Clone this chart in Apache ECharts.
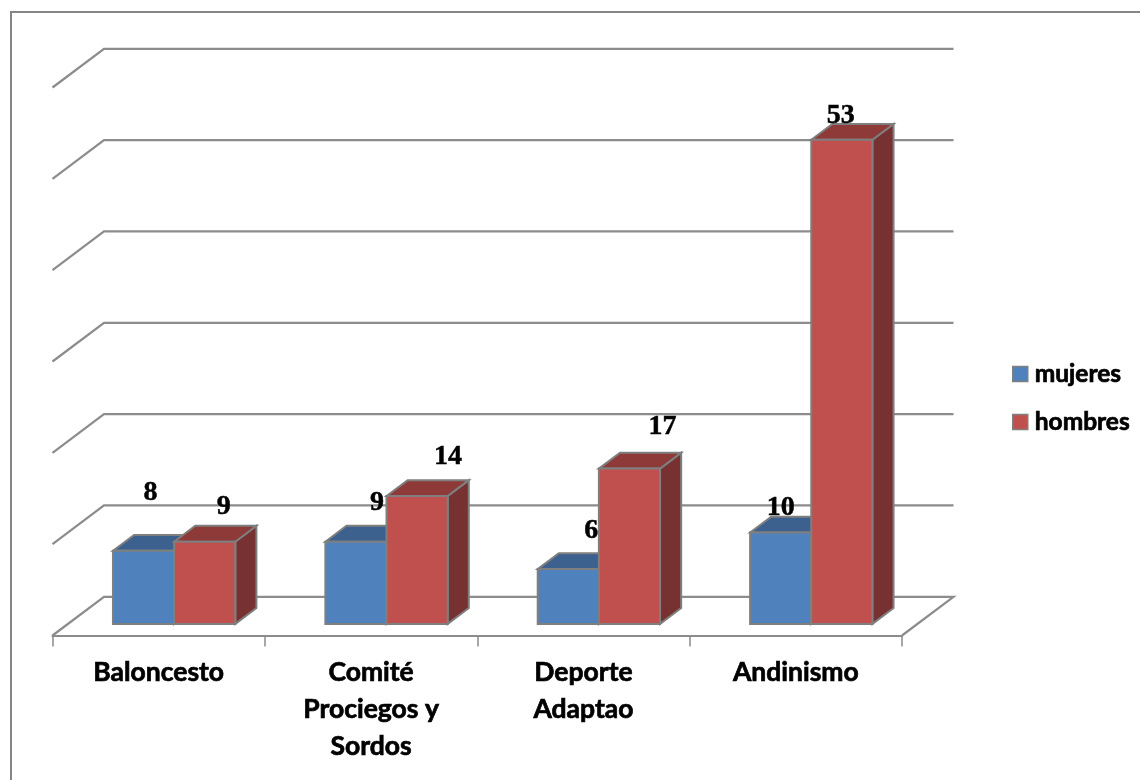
<!DOCTYPE html>
<html><head><meta charset="utf-8">
<style>html,body{margin:0;padding:0;background:#fff}#c{width:1140px;height:780px}</style>
<script src="https://cdn.jsdelivr.net/npm/echarts@6/dist/echarts.min.js"></script>
</head><body><div id="c"></div>
<script>
const categories = ['Baloncesto', 'Comité\nProciegos y\nSordos', 'Deporte\nAdaptao', 'Andinismo'];
const mujeres = [8, 9, 6, 10];
const hombres = [9, 14, 17, 53];
const wallTicks = [0, 10, 20, 30, 40, 50, 60];

const EDGE = '#7f7f7f';
const WALL = '#8c8c8c';
const DEPTH_X = 51.5, DEPTH_Y = 38.7;      // wall offset from the front of the floor
const FRONT = 0.30, BAR_DEPTH = 0.41;       // bar position inside that depth
const BAR_BAND = 0.288;                     // one bar's width as a share of a category
const LABEL_FONT = 'bold 28px "Liberation Serif", serif';
const SANS = { fontFamily: 'Lato', fontWeight: 'bold', color: '#000', textBorderColor: '#000', textBorderWidth: 0.7 };
const mujeresNudge = [[7, -58], [21, -39], [23, -38], [0, -25]];
const hombresNudge = [[19, -35], [31, -39], [33, -42], [-1, -24]];

function wallItem(params, api) {
  const cs = params.coordSys;
  const y = api.coord([0, api.value(0)])[1];
  const x0 = cs.x, x1 = cs.x + cs.width;
  const pts = [[x0, y], [x0 + DEPTH_X, y - DEPTH_Y], [x1 + DEPTH_X, y - DEPTH_Y]];
  if (api.value(0) === 0) pts.push([x1, y]);
  return { type: 'polyline', shape: { points: pts },
    style: { stroke: WALL, lineWidth: 2.2, fill: null } };
}

function barRenderer(slot, front, top, side, nudge) {
  return function (params, api) {
    const cat = api.value(0), val = api.value(1);
    const band = api.size([1, 0])[0];
    const w = band * BAR_BAND;
    const c = api.coord([cat, val]), base = api.coord([cat, 0]);
    const ox = DEPTH_X * FRONT, oy = DEPTH_Y * FRONT;
    const dx = DEPTH_X * BAR_DEPTH, dy = DEPTH_Y * BAR_DEPTH;
    const l = c[0] + ox + slot * w, r = l + w;
    const t = c[1] - oy, b = base[1] - oy;
    const st = (fill) => ({ fill, stroke: EDGE, lineWidth: 2, lineJoin: 'miter' });
    const n = nudge[params.dataIndex];
    return { type: 'group', children: [
      { type: 'polygon', shape: { points: [[r, t], [r + dx, t - dy], [r + dx, b - dy], [r, b]] }, style: st(side) },
      { type: 'polygon', shape: { points: [[l, t], [l + dx, t - dy], [r + dx, t - dy], [r, t]] }, style: st(top) },
      { type: 'rect', shape: { x: l, y: t, width: w, height: b - t }, style: st(front) },
      { type: 'text', z2: 50, style: { text: String(val), x: l + w / 2 + n[0], y: t + n[1],
          fill: '#000', stroke: '#000', lineWidth: 0.5, font: LABEL_FONT, align: 'center', verticalAlign: 'middle' } }
    ] };
  };
}

const chart = echarts.init(document.getElementById('c'), null, { renderer: 'canvas' });
chart.setOption({
  animation: false,
  backgroundColor: '#fff',
  graphic: [{ type: 'polyline', z: -1, shape: { points: [[11, 780], [11, 12], [1140, 12]] },
    style: { fill: null, stroke: '#868686', lineWidth: 2 } }],
  grid: { left: 52.5, top: 87.5, width: 849.5, height: 548 },
  legend: { orient: 'vertical', left: 1012, top: 359, padding: 0, itemWidth: 15, itemHeight: 15, itemGap: 18,
    icon: 'rect', data: ['mujeres', 'hombres'], selectedMode: false,
    textStyle: { ...SANS, fontSize: 24.5, lineHeight: 30, padding: [0, 0, 0, 2] },
    itemStyle: { borderColor: EDGE, borderWidth: 1.5 } },
  xAxis: { type: 'category', data: categories, boundaryGap: true,
    axisLine: { lineStyle: { color: WALL, width: 2.2 } },
    axisTick: { show: true, alignWithLabel: false, length: 11, lineStyle: { color: WALL, width: 1.5 } },
    axisLabel: { interval: 0, margin: 18, ...SANS, fontSize: 26.5,
      lineHeight: 37, align: 'center', verticalAlign: 'top' } },
  yAxis: { type: 'value', min: 0, max: 60, interval: 10,
    axisLine: { show: false }, axisTick: { show: false }, axisLabel: { show: false }, splitLine: { show: false } },
  series: [
    { type: 'custom', name: 'wall', z: 1, silent: true, renderItem: wallItem,
      data: wallTicks.map(v => [v]), encode: { y: 0 }, clip: false },
    { type: 'custom', name: 'mujeres', z: 2, itemStyle: { color: '#4f81bd' }, clip: false,
      renderItem: barRenderer(-1, '#4f81bd', '#3c618e', '#3a5f8c', mujeresNudge),
      data: mujeres.map((v, i) => [i, v]), encode: { x: 0, y: 1 } },
    { type: 'custom', name: 'hombres', z: 3, itemStyle: { color: '#c0504d' }, clip: false,
      renderItem: barRenderer(0, '#c0504d', '#8e3a38', '#763130', hombresNudge),
      data: hombres.map((v, i) => [i, v]), encode: { x: 0, y: 1 } }
  ]
});
</script></body></html>
